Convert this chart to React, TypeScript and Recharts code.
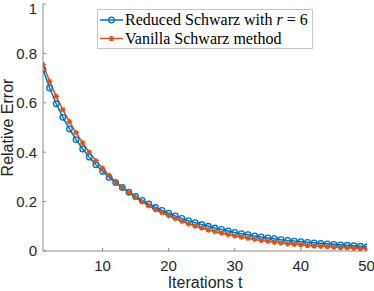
import React from 'react';
import { LineChart, Line, XAxis, YAxis, Label } from 'recharts';

const iterations = [
  1, 2, 3, 4, 5, 6, 7, 8, 9, 10, 11, 12, 13, 14, 15, 16, 17, 18, 19, 20, 21, 22, 23, 24, 25,
  26, 27, 28, 29, 30, 31, 32, 33, 34, 35, 36, 37, 38, 39, 40, 41, 42, 43, 44, 45, 46, 47, 48, 49, 50,
];
const reducedSchwarz = [
  0.735, 0.66, 0.596, 0.541, 0.494, 0.451, 0.413, 0.38, 0.349, 0.323,
  0.298, 0.277, 0.257, 0.238, 0.221, 0.205, 0.19, 0.176, 0.164, 0.153,
  0.142, 0.132, 0.123, 0.115, 0.107, 0.1, 0.093, 0.087, 0.081, 0.075,
  0.07, 0.066, 0.061, 0.057, 0.053, 0.05, 0.046, 0.043, 0.04, 0.038,
  0.035, 0.033, 0.031, 0.029, 0.027, 0.025, 0.023, 0.021, 0.019, 0.017,
];
const vanillaSchwarz = [
  0.755, 0.687, 0.626, 0.572, 0.524, 0.479, 0.438, 0.4, 0.366, 0.335,
  0.306, 0.28, 0.257, 0.236, 0.217, 0.199, 0.183, 0.168, 0.155, 0.143,
  0.131, 0.12, 0.11, 0.101, 0.093, 0.085, 0.078, 0.072, 0.066, 0.061,
  0.056, 0.051, 0.047, 0.042, 0.039, 0.035, 0.032, 0.029, 0.027, 0.025,
  0.022, 0.02, 0.019, 0.017, 0.015, 0.014, 0.013, 0.011, 0.01, 0.009,
];
const xTicks = [10, 20, 30, 40, 50];
const yTicks = [0, 0.2, 0.4, 0.6, 0.8, 1];
const legendLabels = ['Reduced Schwarz with ', 'Vanilla Schwarz method'];

const data = iterations.map((t, i) => ({
  t,
  reduced: reducedSchwarz[i],
  vanilla: vanillaSchwarz[i],
}));

const BLUE = '#0072BD';
const ORANGE = '#D95319';
const AXIS = '#8c8c8c';
const TEXT = '#262626';
const SANS = '"Liberation Sans", Arial, Helvetica, sans-serif';
const SERIF = '"Liberation Serif", "Times New Roman", "DejaVu Serif", serif';

const Star = (props: any) => {
  const { cx, cy } = props;
  if (cx == null || cy == null) return null;
  const s = 2.8;
  const d = s * 0.7;
  return (
    <path
      d={`M${cx - s},${cy} L${cx + s},${cy} M${cx},${cy - s} L${cx},${cy + s} M${cx - d},${cy - d} L${cx + d},${cy + d} M${cx - d},${cy + d} L${cx + d},${cy - d}`}
      stroke={ORANGE}
      strokeWidth={1.2}
      fill="none"
    />
  );
};

const LegendBox = () => (
  <div
    style={{
      position: 'absolute',
      left: 97,
      top: 9,
      width: 216,
      height: 40,
      boxSizing: 'border-box',
      border: '1px solid #c4c4c4',
      background: '#fff',
      fontFamily: SERIF,
      fontSize: 16,
      color: '#000',
      lineHeight: '18px',
    }}
  >
    <svg width={28} height={40} style={{ position: 'absolute', left: 0, top: 0 }}>
      <line x1={2} y1={10} x2={25} y2={10} stroke={BLUE} strokeWidth={1.5} />
      <circle cx={13.5} cy={10} r={2.8} fill="none" stroke={BLUE} strokeWidth={1.3} />
      <line x1={2} y1={28.5} x2={25} y2={28.5} stroke={ORANGE} strokeWidth={1.5} />
      <Star cx={13.5} cy={28.5} />
    </svg>
    <div style={{ position: 'absolute', left: 27, top: 1, whiteSpace: 'nowrap', fontFamily: SERIF }}>
      {legendLabels[0]}
      <i>r</i> = 6
    </div>
    <div style={{ position: 'absolute', left: 27, top: 19.5, whiteSpace: 'nowrap', fontFamily: SERIF }}>
      {legendLabels[1]}
    </div>
  </div>
);

const YLabel = (props: any) => {
  const vb = props.viewBox || { x: 0, y: 4, width: 43, height: 247 };
  const x = vb.x + 13;
  const y = vb.y + vb.height / 2;
  return (
    <text
      x={x}
      y={y}
      transform={`rotate(-90 ${x} ${y})`}
      textAnchor="middle"
      fontFamily={SANS}
      fontSize={16}
      fill={TEXT}
    >
      Relative Error
    </text>
  );
};

const XLabel = (props: any) => {
  const vb = props.viewBox || { x: 43, y: 251, width: 324, height: 40 };
  const x = vb.x + vb.width / 2;
  const y = vb.y + vb.height - 3;
  return (
    <text x={x} y={y} textAnchor="middle" fontFamily={SANS} fontSize={16} fill={TEXT}>
      Iterations t
    </text>
  );
};

const tickStyle = { fontFamily: SANS, fontSize: 15, fill: TEXT };

export default function App() {
  return (
    <div style={{ position: 'absolute', left: 0, top: 0, width: 374, height: 291, background: '#fff' }}>
      <LineChart width={374} height={291} data={data} margin={{ top: 4, right: 7, bottom: 0, left: 0 }}>
        <XAxis
          dataKey="t"
          type="number"
          domain={[1, 50]}
          ticks={xTicks}
          allowDataOverflow
          height={40}
          tickSize={-3}
          tickMargin={12.5}
          tick={tickStyle}
          stroke={AXIS}
        >
          <Label content={<XLabel />} />
        </XAxis>
        <XAxis
          xAxisId="top"
          orientation="top"
          type="number"
          domain={[1, 50]}
          ticks={xTicks}
          allowDataOverflow
          height={0}
          tickSize={-3}
          tickFormatter={() => ''}
          stroke={AXIS}
        />
        <YAxis
          type="number"
          domain={[0, 1]}
          ticks={yTicks}
          allowDataOverflow
          width={43}
          tickSize={-3}
          tickMargin={9}
          tick={tickStyle}
          stroke={AXIS}
        >
          <Label content={<YLabel />} />
        </YAxis>
        <YAxis
          yAxisId="right"
          orientation="right"
          type="number"
          domain={[0, 1]}
          ticks={yTicks}
          allowDataOverflow
          width={0}
          tickSize={-3}
          tickFormatter={() => ''}
          stroke={AXIS}
        />
        <Line
          type="linear"
          dataKey="reduced"
          stroke={BLUE}
          strokeWidth={1.5}
          dot={{ r: 2.8, fill: 'none', stroke: BLUE, strokeWidth: 1.3 }}
          activeDot={false}
          isAnimationActive={false}
        />
        <Line
          type="linear"
          dataKey="vanilla"
          stroke={ORANGE}
          strokeWidth={1.5}
          dot={<Star />}
          activeDot={false}
          isAnimationActive={false}
        />
      </LineChart>
      <LegendBox />
    </div>
  );
}
